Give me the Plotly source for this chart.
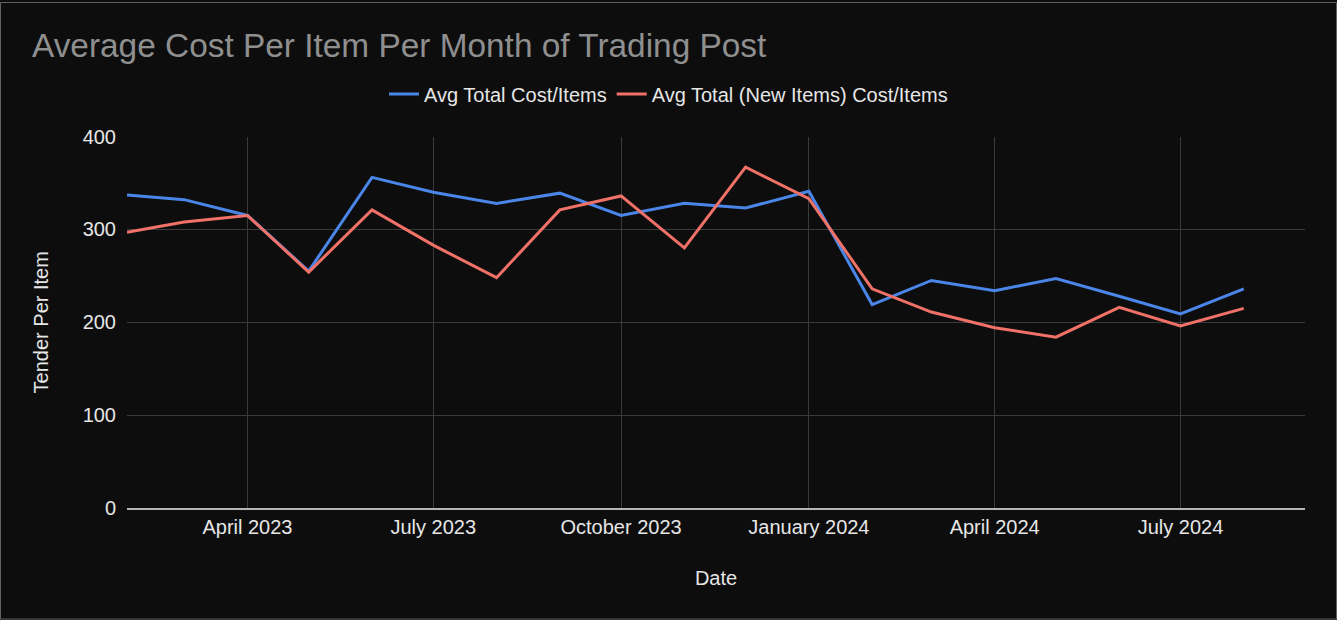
import plotly.graph_objects as go

dates = ["2023-02-01", "2023-03-01", "2023-04-01", "2023-05-01", "2023-06-01", "2023-07-01",
         "2023-08-01", "2023-09-01", "2023-10-01", "2023-11-01", "2023-12-01", "2024-01-01",
         "2024-02-01", "2024-03-01", "2024-04-01", "2024-05-01", "2024-06-01", "2024-07-01",
         "2024-08-01"]
avg_total = [337, 332, 315, 255, 356, 340, 328, 339, 315, 328, 323, 341,
             219, 245, 234, 247, 228, 209, 236]
avg_new = [297, 308, 315, 254, 321, 283, 248, 321, 336, 280, 367, 333,
           236, 211, 194, 184, 216, 196, 215]

tick_dates = ["2023-04-01", "2023-07-01", "2023-10-01", "2024-01-01", "2024-04-01", "2024-07-01"]
tick_text = ["April 2023", "July 2023", "October 2023", "January 2024", "April 2024", "July 2024"]
y_ticks = [0, 100, 200, 300, 400]

BG = "#0d0d0d"
GRID = "#3a3a3a"
TXT = "#e6e6e6"
FONT = "Liberation Sans, Arial, sans-serif"

W, H = 1337, 620
ML, MR, MT, MB = 127, 32, 135, 112

fig = go.Figure()
fig.add_trace(go.Scatter(x=dates, y=avg_total, mode="lines", name="Avg Total Cost/Items",
                         line=dict(color="#4a86e8", width=3)))
fig.add_trace(go.Scatter(x=dates, y=avg_new, mode="lines", name="Avg Total (New Items) Cost/Items",
                         line=dict(color="#f07167", width=3)))

pw, ph = W - ML - MR, H - MT - MB
fig.add_shape(type="rect", xref="paper", yref="paper",
              x0=(0.5 - ML) / pw, x1=(W - 0.5 - ML) / pw,
              y0=(H - MB - (H - 0.5)) / ph, y1=(H - MB - 0.5) / ph,
              line=dict(color="#5f6368", width=1), fillcolor="rgba(0,0,0,0)", layer="below")

fig.update_layout(
    width=W, height=H,
    margin=dict(l=ML, r=MR, t=MT, b=MB),
    paper_bgcolor=BG, plot_bgcolor=BG,
    font=dict(family=FONT, color=TXT, size=20),
    title=dict(text="Average Cost Per Item Per Month of Trading Post",
               font=dict(size=33.4, color="#8f8f8f", family=FONT),
               x=32 / W, xanchor="left", xref="container",
               y=1 - 45 / H, yanchor="middle", yref="container"),
    legend=dict(orientation="h", xref="container", yref="container",
                x=0.5, xanchor="center", y=1 - 94 / H, yanchor="middle",
                font=dict(size=20, color=TXT), bgcolor="rgba(0,0,0,0)",
                itemwidth=30, tracegroupgap=0),
    showlegend=True,
    xaxis=dict(range=["2023-02-01", "2024-08-31"], tickvals=tick_dates, ticktext=tick_text,
               showgrid=True, gridcolor=GRID, gridwidth=1,
               showline=True, linecolor="#b5b5b5", linewidth=2,
               ticks="", ticklabelstandoff=0,
               tickfont=dict(size=20, color=TXT),
               title=dict(text="Date", font=dict(size=20, color=TXT), standoff=34)),
    yaxis=dict(range=[0, 400], tickvals=y_ticks, showgrid=True, gridcolor=GRID, gridwidth=1,
               zeroline=False, ticks="", ticklabelstandoff=10,
               tickfont=dict(size=20, color=TXT),
               title=dict(text="Tender Per Item", font=dict(size=20, color=TXT), standoff=28)),
)

fig.write_html("out.html", post_script="document.body.style.margin='0px';",
               config={"displayModeBar": False})
